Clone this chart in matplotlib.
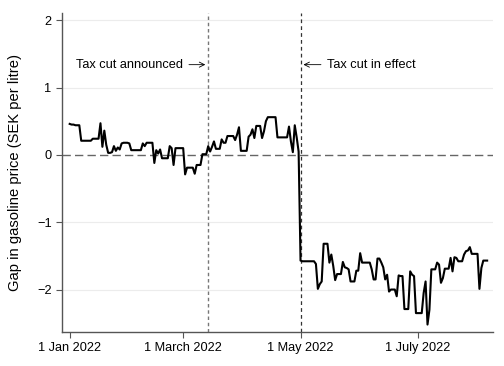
import numpy as np
import pandas as pd
import matplotlib
matplotlib.use("Agg")
import matplotlib.pyplot as plt

plt.rcParams['font.family'] = ['Liberation Sans', 'DejaVu Sans']

# daily gap in gasoline price (SEK per litre), from 1 Jan 2022
gap = [
    0.46, 0.45, 0.45, 0.44, 0.44, 0.44, 0.21, 0.21, 0.21, 0.21,
    0.21, 0.21, 0.24, 0.24, 0.24, 0.24, 0.47, 0.12, 0.36, 0.15,
    0.03, 0.03, 0.04, 0.13, 0.06, 0.11, 0.08, 0.17, 0.18, 0.18,
    0.18, 0.17, 0.07, 0.07, 0.07, 0.07, 0.07, 0.07, 0.17, 0.13,
    0.18, 0.18, 0.18, 0.18, -0.12, 0.07, 0.02, 0.08, -0.05, -0.05,
    -0.05, -0.05, 0.13, 0.10, -0.15, 0.10, 0.10, 0.10, 0.10, 0.10,
    -0.29, -0.19, -0.19, -0.19, -0.19, -0.28, -0.15, -0.15, -0.15, 0.01,
    0.01, 0.01, 0.13, 0.05, 0.12, 0.20, 0.09, 0.09, 0.09, 0.23,
    0.18, 0.18, 0.28, 0.28, 0.28, 0.28, 0.22, 0.30, 0.41, 0.06,
    0.06, 0.06, 0.06, 0.27, 0.30, 0.38, 0.25, 0.43, 0.43, 0.43,
    0.25, 0.35, 0.50, 0.56, 0.56, 0.56, 0.56, 0.56, 0.26, 0.26,
    0.26, 0.26, 0.26, 0.26, 0.42, 0.20, 0.04, 0.44, 0.26, 0.05,
    -1.57, -1.58, -1.58, -1.58, -1.58, -1.58, -1.58, -1.58, -1.62, -1.99,
    -1.92, -1.88, -1.32, -1.32, -1.32, -1.60, -1.48, -1.65, -1.86, -1.77,
    -1.77, -1.77, -1.59, -1.67, -1.68, -1.70, -1.88, -1.88, -1.88, -1.72,
    -1.72, -1.46, -1.60, -1.60, -1.60, -1.60, -1.60, -1.70, -1.85, -1.85,
    -1.54, -1.54, -1.60, -1.67, -1.85, -1.78, -2.03, -2.00, -2.00, -2.00,
    -2.10, -1.79, -1.80, -1.80, -2.29, -2.29, -2.29, -1.73, -1.78, -1.80,
    -2.35, -2.35, -2.35, -2.35, -2.05, -1.88, -2.52, -2.30, -1.70, -1.70,
    -1.70, -1.60, -1.63, -1.90, -1.83, -1.69, -1.69, -1.69, -1.53, -1.73,
    -1.52, -1.53, -1.58, -1.58, -1.58, -1.48, -1.43, -1.42, -1.37, -1.47,
    -1.47, -1.47, -1.47, -1.99, -1.68, -1.57, -1.57, -1.57,
]
dates = pd.date_range("2022-01-01", periods=len(gap), freq="D")

announced = pd.Timestamp("2022-03-14")
in_effect = pd.Timestamp("2022-05-01")

tick_dates = [pd.Timestamp("2022-01-01"), pd.Timestamp("2022-03-01"),
              pd.Timestamp("2022-05-01"), pd.Timestamp("2022-07-01")]
tick_labels = ["1 Jan 2022", "1 March 2022", "1 May 2022", "1 July 2022"]
y_ticks = [-2, -1, 0, 1, 2]

fig = plt.figure(figsize=(5.04, 3.66), dpi=100)
ax = fig.add_axes([0.123, 0.093, 0.855, 0.872])

for y in y_ticks:
    if y != 0:
        ax.axhline(y, color="#ececec", lw=0.8, zorder=0)
ax.axhline(0, color="#666666", lw=1.0, ls=(0, (6, 3)), zorder=1)
ax.axvline(announced, color="#777777", lw=1.0, ls=(0, (2.5, 2)), zorder=1)
ax.axvline(in_effect, color="#333333", lw=0.9, ls=(0, (3, 2.5)), zorder=1)

ax.plot(dates, gap, color="black", lw=1.5, zorder=3)

ax.annotate("Tax cut announced", xy=(announced - pd.Timedelta(days=1.5), 1.34),
            xytext=(pd.Timestamp("2022-01-04 12:00"), 1.34), va="center", ha="left",
            fontsize=9.2,
            arrowprops=dict(arrowstyle="->", color="black", lw=0.6,
                            shrinkA=2, shrinkB=0))
ax.annotate("Tax cut in effect", xy=(in_effect + pd.Timedelta(days=1.5), 1.34),
            xytext=(pd.Timestamp("2022-05-14 12:00"), 1.34), va="center", ha="left",
            fontsize=9.2,
            arrowprops=dict(arrowstyle="->", color="black", lw=0.6,
                            shrinkA=2, shrinkB=0))

ax.set_xlim(pd.Timestamp("2021-12-28"), pd.Timestamp("2022-08-09"))
ax.set_ylim(-2.63, 2.11)
ax.set_xticks(tick_dates)
ax.set_xticklabels(tick_labels)
ax.set_yticks(y_ticks)
ax.set_ylabel("Gap in gasoline price (SEK per litre)", fontsize=10.6, labelpad=11)

for s in ["top", "right"]:
    ax.spines[s].set_visible(False)
for s in ["left", "bottom"]:
    ax.spines[s].set_color("#555555")
    ax.spines[s].set_linewidth(1.0)
ax.tick_params(axis="both", colors="#555555", labelcolor="black",
               labelsize=9.2, length=4, width=0.8, direction="out")

fig.savefig("out.png", dpi=100)
